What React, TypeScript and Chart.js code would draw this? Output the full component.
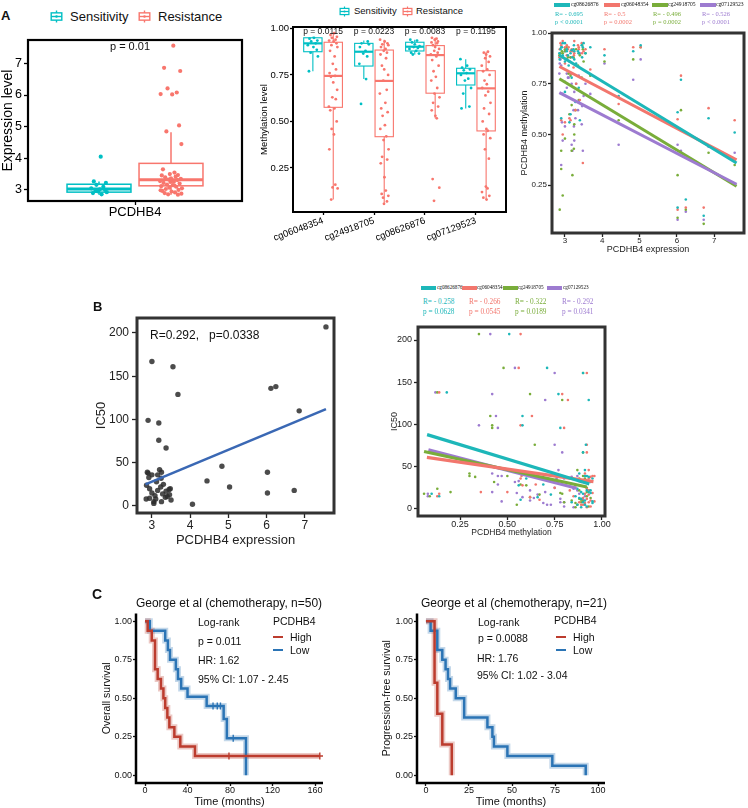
import React, { useEffect, useRef } from 'react';
import { Chart, registerables } from 'chart.js';
Chart.register(...registerables);

const SANS = "'Liberation Sans', Arial, Helvetica, sans-serif";
const SERIF = "'Liberation Serif', 'Times New Roman', serif";

// ---------------- shared jitter offsets (position only, -1..1) ----------------
const JIT = [0.2, -0.6, 0.8, -0.3, 0.5, -0.9, 0.1, 0.7, -0.4, 0.9, -0.7, 0.3, -0.1, 0.6, -0.8, 0.4, -0.5, 0.0, 0.85, -0.2, 0.55, -0.95, 0.25, -0.65, 0.75, -0.35, 0.15, -0.85, 0.45, -0.15, 0.95, -0.45, 0.65, -0.75, 0.05, 0.35, -0.55, 0.9, -0.25, 0.6, -0.05, 0.3, -0.9, 0.7, -0.6, 0.1, 0.5, -0.3, 0.8, -0.7];

// ---------------- Panel A1: expression by response ----------------
const A1_SENS = [4.05, 3.27, 3.22, 3.16, 3.1, 3.05, 3.02, 3.0, 2.97, 2.93, 2.9, 2.86, 2.95];
const A1_RES = [7.56, 6.86, 6.76, 6.21, 6.08, 6.03, 6.02, 5.04, 4.85, 4.45, 3.65, 3.55, 3.5, 3.47, 3.46, 3.42, 3.4, 3.37, 3.35, 3.33, 3.31, 3.28, 3.26, 3.22, 3.2, 3.17, 3.15, 3.12, 3.1, 3.07, 3.05, 3.03, 3.0, 2.97, 2.95, 2.92, 2.9, 2.88, 2.86, 2.85, 3.25, 3.14, 2.99];
const A1_SENS_BOX = [2.85, 2.93, 3.03, 3.18, 3.27]; // lo, q1, med, q3, hi
const A1_RES_BOX = [2.85, 3.13, 3.32, 3.84, 4.82];
const A1_YTICKS = [3, 4, 5, 6, 7];

// ---------------- Panel A2: methylation by probe ----------------
const A2_CATS = ['cg06048354', 'cg24918705', 'cg08626876', 'cg07129523'];
const A2_PVALS = ['p = 0.0115', 'p = 0.0223', 'p = 0.0083', 'p = 0.1195'];
const A2_SENS_LO = [0.77, 0.728, 0.86, 0.57];
const A2_SENS_Q1 = [0.875, 0.798, 0.879, 0.696];
const A2_SENS_MED = [0.92, 0.875, 0.902, 0.759];
const A2_SENS_Q3 = [0.95, 0.92, 0.926, 0.786];
const A2_SENS_HI = [0.955, 0.935, 0.94, 0.835];
const A2_RES_LO = [0.08, 0.05, 0.517, 0.08];
const A2_RES_Q1 = [0.576, 0.418, 0.652, 0.449];
const A2_RES_MED = [0.745, 0.718, 0.857, 0.678];
const A2_RES_Q3 = [0.926, 0.884, 0.908, 0.773];
const A2_RES_HI = [0.975, 0.94, 0.95, 0.875];
const A2_SENS_PTS = [
  [0.95, 0.945, 0.935, 0.93, 0.92, 0.91, 0.9, 0.885, 0.87, 0.85, 0.77],
  [0.93, 0.92, 0.915, 0.9, 0.88, 0.865, 0.85, 0.81, 0.728, 0.594],
  [0.94, 0.935, 0.925, 0.915, 0.905, 0.9, 0.895, 0.89, 0.88, 0.87, 0.865, 0.86],
  [0.835, 0.8, 0.79, 0.78, 0.775, 0.76, 0.75, 0.73, 0.72, 0.68, 0.65, 0.58, 0.57],
];
const A2_RES_PTS = [
  [0.975, 0.965, 0.955, 0.95, 0.94, 0.935, 0.93, 0.92, 0.91, 0.9, 0.88, 0.85, 0.81, 0.78, 0.76, 0.745, 0.74, 0.71, 0.67, 0.63, 0.62, 0.58, 0.57, 0.56, 0.5, 0.46, 0.43, 0.35, 0.16, 0.145, 0.14, 0.08],
  [0.94, 0.93, 0.92, 0.915, 0.91, 0.9, 0.89, 0.88, 0.87, 0.86, 0.84, 0.8, 0.78, 0.75, 0.72, 0.67, 0.65, 0.6, 0.57, 0.55, 0.53, 0.48, 0.46, 0.42, 0.4, 0.35, 0.31, 0.295, 0.275, 0.2, 0.128, 0.11, 0.1, 0.09, 0.07, 0.057],
  [0.95, 0.945, 0.94, 0.93, 0.925, 0.92, 0.91, 0.9, 0.89, 0.88, 0.87, 0.86, 0.85, 0.83, 0.8, 0.77, 0.74, 0.72, 0.68, 0.65, 0.63, 0.6, 0.58, 0.56, 0.53, 0.517, 0.19, 0.144, 0.073],
  [0.875, 0.87, 0.86, 0.85, 0.84, 0.82, 0.8, 0.78, 0.77, 0.75, 0.72, 0.7, 0.68, 0.66, 0.64, 0.6, 0.57, 0.54, 0.5, 0.46, 0.45, 0.43, 0.41, 0.35, 0.3, 0.15, 0.14, 0.12, 0.1, 0.09, 0.08],
];
const A2_YTICKS = [0.25, 0.5, 0.75, 1.0];

// ---------------- Shared samples (A3, B1, B2) ----------------
const S_EXPR = [7.55, 6.85, 6.72, 6.24, 6.11, 6.02, 6.02, 5.03, 4.83, 4.44, 4.06, 3.68, 3.55, 3.0, 2.9, 3.18, 3.18, 3.37, 2.88, 2.9, 3.0, 3.2, 3.25, 3.15, 3.24, 2.86, 2.94, 3.23, 3.48, 3.46, 3.37, 3.15, 3.0, 2.85, 2.94, 3.05, 3.1, 3.25, 3.05, 3.28, 3.4, 3.45, 3.12, 3.3, 2.92, 3.35, 3.08, 3.5];
const S_IC50 = [207, 110, 18, 138, 136, 39, 15, 22, 46, 29, 2, 129, 161, 167, 99, 96, 76, 67, 39, 38, 36, 42, 39, 36, 32, 24, 20, 22, 20, 13, 17, 18, 15, 8, 9, 5, 8, 5, 3, 14, 11, 19, 28, 25, 33, 10, 12, 7];
const M_CG08626876 = [0.51, 0.58, 0.1, 0.18, 0.77, 0.61, 0.14, 0.94, 0.91, 0.69, 0.89, 0.93, 0.9, 0.71, 0.58, 0.78, 0.915, 0.9, 0.92, 0.93, 0.95, 0.88, 0.91, 0.6, 0.94, 0.87, 0.89, 0.92, 0.93, 0.88, 0.73, 0.9, 0.86, 0.9, 0.95, 0.91, 0.84, 0.87, 0.92, 0.66, 0.57, 0.94, 0.56, 0.85, 0.93, 0.91, 0.89, 0.95];
const M_CG06048354 = [0.57, 0.63, 0.14, 0.14, 0.79, 0.575, 0.13, 0.93, 0.93, 0.65, 0.92, 0.82, 0.92, 0.56, 0.57, 0.8, 0.92, 0.92, 0.95, 0.94, 0.93, 0.91, 0.96, 0.57, 0.89, 0.92, 0.5, 0.83, 0.36, 0.9, 0.93, 0.91, 0.85, 0.88, 0.96, 0.89, 0.93, 0.9, 0.94, 0.62, 0.67, 0.95, 0.58, 0.75, 0.88, 0.94, 0.92, 0.91];
const M_CG24918705 = [0.35, 0.41, 0.06, 0.13, 0.62, 0.3, 0.09, 0.93, 0.87, 0.57, 0.86, 0.79, 0.9, 0.48, 0.42, 0.42, 0.645, 0.9, 0.9, 0.33, 0.91, 0.3, 0.5, 0.88, 0.43, 0.13, 0.2, 0.88, 0.92, 0.94, 0.67, 0.79, 0.92, 0.89, 0.9, 0.87, 0.8, 0.55, 0.93, 0.62, 0.89, 0.78, 0.6, 0.92, 0.91, 0.84, 0.88, 0.86];
const M_CG07129523 = [0.41, 0.44, 0.08, 0.12, 0.42, 0.45, 0.08, 0.87, 0.77, 0.45, 0.85, 0.7, 0.75, 0.54, 0.35, 0.45, 0.75, 0.79, 0.87, 0.84, 0.76, 0.42, 0.47, 0.8, 0.54, 0.85, 0.7, 0.62, 0.42, 0.64, 0.66, 0.88, 0.91, 0.8, 0.47, 0.73, 0.78, 0.71, 0.8, 0.58, 0.9, 0.55, 0.86, 0.75, 0.56, 0.62, 0.78, 0.69];
const PROBES = ['cg08626876', 'cg06048354', 'cg24918705', 'cg07129523'];
const PROBE_METH = [M_CG08626876, M_CG06048354, M_CG24918705, M_CG07129523];
const PROBE_COLORS = ['#1DB7B9', '#F2766D', '#79AD3A', '#9D7BD0'];
// regression line end points [x0, y0, x1, y1]
const A3_FITS = [[2.85, 0.89, 7.6, 0.36], [2.85, 0.835, 7.6, 0.375], [2.85, 0.775, 7.6, 0.245], [2.85, 0.706, 7.6, 0.255]];
const A3_R = ['R= - 0.695', 'R= - 0.5', 'R= - 0.496', 'R= - 0.526'];
const A3_P = ['p < 0.0001', 'p = 0.0002', 'p = 0.0002', 'p < 0.0001'];
const A3_XTICKS = [3, 4, 5, 6, 7];
const A3_YTICKS = [0.25, 0.5, 0.75, 1.0];
const B1_FIT = [2.83, 25, 7.55, 112];
const B1_XTICKS = [3, 4, 5, 6, 7];
const B1_YTICKS = [0, 50, 100, 150, 200];
const B2_FITS = [[0.076, 88, 0.933, 29.6], [0.075, 61, 0.955, 32.3], [0.06, 68, 0.92, 26], [0.083, 70, 0.866, 24.5]];
const B2_R = ['R= - 0.258', 'R= - 0.266', 'R= - 0.322', 'R= - 0.292'];
const B2_P = ['p = 0.0628', 'p = 0.0545', 'p = 0.0189', 'p = 0.0341'];
const B2_XTICKS = [0.25, 0.5, 0.75, 1.0];
const B2_YTICKS = [0, 50, 100, 150, 200];

// ---------------- Panel C: Kaplan-Meier ----------------
const C1_HIGH_T = [0, 2.5, 6.3, 9.4, 11.9, 15, 17.3, 19, 21, 22.9, 27.6, 33.2, 47, 164.5];
const C1_HIGH_S = [1, 0.9375, 0.875, 0.6875, 0.625, 0.5625, 0.5, 0.4375, 0.375, 0.3125, 0.25, 0.1875, 0.125, 0.125];
const C1_HIGH_CT = [79, 164.5];
const C1_HIGH_CS = [0.125, 0.125];
const C1_LOW_T = [0, 4.5, 19, 21.5, 23.5, 29, 31, 34, 40, 58, 74, 77, 95];
const C1_LOW_S = [1, 0.9375, 0.875, 0.8125, 0.75, 0.6875, 0.625, 0.5625, 0.51, 0.45, 0.365, 0.24, 0];
const C1_LOW_CT = [64, 68, 71, 83];
const C1_LOW_CS = [0.45, 0.45, 0.45, 0.24];
const C1_XTICKS = [0, 40, 80, 120, 160];
const C2_HIGH_T = [0, 5, 6.6, 9.5, 15];
const C2_HIGH_S = [1, 0.6, 0.4, 0.2, 0];
const C2_LOW_T = [0, 2.7, 6.6, 9.5, 11.4, 12.8, 14, 17.3, 22.2, 35.7, 38.6, 39.5, 47.3, 73.4, 92.8];
const C2_LOW_S = [1, 0.9375, 0.8125, 0.75, 0.6875, 0.625, 0.5625, 0.5, 0.375, 0.3125, 0.25, 0.1875, 0.125, 0.0625, 0];
const C2_XTICKS = [0, 25, 50, 75, 100];
const KM_YTICKS = [0, 0.25, 0.5, 0.75, 1.0];

const TEAL = '#00BFC4';
const SALMON = '#F8766D';
const KM_RED = '#BC3C2E';
const KM_BLUE = '#2B74B5';

// ---------------- helpers ----------------
type AxisSpec = {
  min: number; max: number; ticks: number[]; label?: (v: number) => string;
  size: number; font: number; tl: number; pad: number; color?: string; tw?: number;
  title?: string; tfont?: number; tpad?: number; rot?: number;
};

function axis(a: AxisSpec): any {
  const color = a.color || '#111';
  return {
    type: 'linear', min: a.min, max: a.max,
    afterBuildTicks: (s: any) => { s.ticks = a.ticks.map((v) => ({ value: v })); },
    afterFit: (s: any) => { if (s.isHorizontal()) s.height = a.size; else s.width = a.size; },
    grid: { display: true, drawOnChartArea: false, drawTicks: true, tickLength: a.tl, tickColor: color, tickWidth: a.tw || 1.3 },
    border: { display: false },
    ticks: {
      font: { family: SANS, size: a.font, lineHeight: 1 }, color, padding: a.pad, autoSkip: false,
      maxRotation: a.rot || 0, minRotation: a.rot || 0,
      callback: (v: any) => (a.label ? a.label(Number(v)) : String(v)),
    },
    title: a.title
      ? { display: true, text: a.title, color, font: { family: SANS, size: a.tfont, lineHeight: 1 }, padding: { top: a.tpad, bottom: a.tpad } }
      : { display: false },
  };
}

function framePlugin(color: string, width: number, sides: 'all' | 'lb') {
  return {
    id: 'frame',
    afterDatasetsDraw(chart: any) {
      const { ctx, chartArea: a } = chart;
      ctx.save();
      ctx.strokeStyle = color;
      ctx.lineWidth = width;
      if (sides === 'all') {
        ctx.strokeRect(a.left, a.top, a.right - a.left, a.bottom - a.top);
      } else {
        ctx.beginPath();
        ctx.moveTo(a.left, a.top);
        ctx.lineTo(a.left, a.bottom);
        ctx.lineTo(a.right, a.bottom);
        ctx.stroke();
      }
      ctx.restore();
    },
  };
}

type BoxItem = { x: number; half: number; s: number[]; color: string; lw: number };
function boxPlugin(items: BoxItem[]) {
  return {
    id: 'boxes',
    beforeDatasetsDraw(chart: any) {
      const { ctx } = chart;
      const xs = chart.scales.x, ys = chart.scales.y;
      for (const b of items) {
        const [lo, q1, med, q3, hi] = b.s;
        const xl = xs.getPixelForValue(b.x - b.half);
        const xr = xs.getPixelForValue(b.x + b.half);
        const xc = xs.getPixelForValue(b.x);
        const py = (v: number) => ys.getPixelForValue(v);
        ctx.save();
        ctx.strokeStyle = b.color;
        ctx.lineWidth = b.lw;
        ctx.beginPath();
        ctx.moveTo(xc, py(q3)); ctx.lineTo(xc, py(hi));
        ctx.moveTo(xc, py(q1)); ctx.lineTo(xc, py(lo));
        ctx.stroke();
        ctx.fillStyle = '#fff';
        ctx.fillRect(xl, py(q3), xr - xl, py(q1) - py(q3));
        ctx.strokeRect(xl, py(q3), xr - xl, py(q1) - py(q3));
        ctx.lineWidth = b.lw * 2;
        ctx.beginPath();
        ctx.moveTo(xl, py(med)); ctx.lineTo(xr, py(med));
        ctx.stroke();
        ctx.restore();
      }
    },
  };
}

function pvalPlugin(labels: string[]) {
  return {
    id: 'pvals',
    afterDatasetsDraw(chart: any) {
      const { ctx, chartArea } = chart;
      const xs = chart.scales.x;
      ctx.save();
      ctx.font = `8.5px ${SANS}`;
      ctx.fillStyle = '#111';
      ctx.textAlign = 'center';
      ctx.textBaseline = 'middle';
      labels.forEach((t, i) => ctx.fillText(t, xs.getPixelForValue(i + 1), chartArea.top + 5));
      ctx.restore();
    },
  };
}

function baseOptions(padding: any, scales: any) {
  return {
    responsive: false,
    animation: false,
    events: [],
    layout: { padding },
    plugins: { legend: { display: false }, tooltip: { enabled: false } },
    scales,
  };
}

const pts = (xs: number[], ys: number[]) => xs.map((x, i) => ({ x, y: ys[i] }));
const scatterSet = (data: any[], color: string, r: number, order = 2) => ({
  data, pointRadius: r, pointBackgroundColor: color, pointBorderWidth: 0, showLine: false, order,
});
const lineSet = (fit: number[], color: string, w: number, order = 0) => ({
  data: [{ x: fit[0], y: fit[1] }, { x: fit[2], y: fit[3] }],
  showLine: true, borderColor: color, borderWidth: w, pointRadius: 0, order, borderCapStyle: 'butt',
});
const kmSet = (T: number[], S: number[], color: string, w: number, order: number) => ({
  data: pts(T, S), showLine: true, stepped: 'before', borderColor: color, borderWidth: w, pointRadius: 0, order, fill: false,
});
const censorSet = (T: number[], S: number[], color: string) => ({
  data: pts(T, S), showLine: false, pointStyle: 'cross', pointRadius: 3.5, pointBorderColor: color, pointBorderWidth: 1.4, order: 0,
});

// ---------------- chart builders ----------------
function buildA1(c: HTMLCanvasElement) {
  const sens = A1_SENS.map((v, i) => ({ x: 0.75 + JIT[i] * 0.06, y: v }));
  const res = A1_RES.map((v, i) => ({ x: 1.25 + JIT[i] * 0.08, y: v }));
  return new Chart(c, {
    type: 'scatter',
    data: { datasets: [scatterSet(sens, TEAL, 2.1), scatterSet(res, SALMON, 2.1)] as any },
    options: baseOptions({ left: 0, top: 15, right: 8, bottom: 0 }, {
      x: axis({ min: 0.257, max: 1.743, ticks: [1], label: () => 'PCDHB4', size: 24, font: 13, tl: 4, pad: 1, color: '#000' }),
      y: axis({ min: 2.65, max: 7.74, ticks: A1_YTICKS, size: 28, font: 12.5, tl: 4, pad: 2, color: '#000', title: 'Expression level', tfont: 14, tpad: 1 }),
    }) as any,
    plugins: [
      boxPlugin([
        { x: 0.75, half: 0.222, s: A1_SENS_BOX, color: TEAL, lw: 1.5 },
        { x: 1.25, half: 0.222, s: A1_RES_BOX, color: SALMON, lw: 1.5 },
      ]),
      framePlugin('#000', 2.2, 'all'),
    ] as any,
  });
}

function buildA2(c: HTMLCanvasElement) {
  const datasets: any[] = [];
  const items: BoxItem[] = [];
  A2_CATS.forEach((_, g) => {
    const cx = g + 1;
    items.push({ x: cx - 0.2, half: 0.18, s: [A2_SENS_LO[g], A2_SENS_Q1[g], A2_SENS_MED[g], A2_SENS_Q3[g], A2_SENS_HI[g]], color: TEAL, lw: 1.1 });
    items.push({ x: cx + 0.2, half: 0.18, s: [A2_RES_LO[g], A2_RES_Q1[g], A2_RES_MED[g], A2_RES_Q3[g], A2_RES_HI[g]], color: SALMON, lw: 1.1 });
    datasets.push(scatterSet(A2_SENS_PTS[g].map((v, i) => ({ x: cx - 0.2 + JIT[(i + g * 7) % JIT.length] * 0.11, y: v })), TEAL, 1.4));
    datasets.push(scatterSet(A2_RES_PTS[g].map((v, i) => ({ x: cx + 0.2 + JIT[(i + g * 5) % JIT.length] * 0.09, y: v })), SALMON, 1.4));
  });
  return new Chart(c, {
    type: 'scatter',
    data: { datasets },
    options: baseOptions({ left: 0, top: 7, right: 4, bottom: 0 }, {
      x: axis({ min: 0.41, max: 4.59, ticks: [1, 2, 3, 4], label: (v) => A2_CATS[Math.round(v) - 1] || '', size: 48, font: 9.5, tl: 3, pad: 1, rot: 20, color: '#000' }),
      y: axis({ min: 0.013, max: 1.008, ticks: A2_YTICKS, label: (v) => v.toFixed(2), size: 43, font: 9.5, tl: 3, pad: 1, color: '#000', title: 'Methylation level', tfont: 9.5, tpad: 10 }),
    }) as any,
    plugins: [boxPlugin(items), pvalPlugin(A2_PVALS), framePlugin('#000', 2, 'all')] as any,
  });
}

function buildA3(c: HTMLCanvasElement) {
  const datasets: any[] = [];
  PROBES.forEach((_, k) => datasets.push(scatterSet(pts(S_EXPR, PROBE_METH[k]), PROBE_COLORS[k], 1.3, 2)));
  [3, 2, 1, 0].forEach((k) => datasets.push(lineSet(A3_FITS[k], PROBE_COLORS[k], 3, k === 0 ? 0 : 1)));
  return new Chart(c, {
    type: 'scatter',
    data: { datasets },
    options: baseOptions({ left: 0, top: 4, right: 3, bottom: 0 }, {
      x: axis({ min: 2.653, max: 7.8, ticks: A3_XTICKS, size: 29, font: 8, tl: 4, pad: 0, color: '#222', title: 'PCDHB4 expression', tfont: 9, tpad: 7.5 }),
      y: axis({ min: 0.015, max: 1.0, ticks: A3_YTICKS, label: (v) => v.toFixed(2), size: 52, font: 8, tl: 4, pad: 1, color: '#222', title: 'PCDHB4 methylation', tfont: 9, tpad: 20.5 }),
    }) as any,
    plugins: [framePlugin('#333', 3, 'all')] as any,
  });
}

function buildB1(c: HTMLCanvasElement) {
  return new Chart(c, {
    type: 'scatter',
    data: { datasets: [scatterSet(pts(S_EXPR, S_IC50), 'rgba(45,45,45,0.85)', 2.7, 2), lineSet(B1_FIT, '#3A68B4', 2.6, 0)] as any },
    options: baseOptions({ left: 0, top: 18, right: 6, bottom: 0 }, {
      x: axis({ min: 2.61, max: 7.76, ticks: B1_XTICKS, size: 37, font: 12, tl: 5, pad: 2, color: '#222', title: 'PCDHB4 expression', tfont: 13, tpad: 3.5 }),
      y: axis({ min: -8.1, max: 217.3, ticks: B1_YTICKS, size: 67, font: 12, tl: 5, pad: 3, color: '#222', title: 'IC50', tfont: 13, tpad: 24.5 }),
    }) as any,
    plugins: [framePlugin('#333', 3, 'all')] as any,
  });
}

function buildB2(c: HTMLCanvasElement) {
  const datasets: any[] = [];
  PROBES.forEach((_, k) => datasets.push(scatterSet(pts(PROBE_METH[k], S_IC50), PROBE_COLORS[k], 1.3, 2)));
  [1, 2, 3, 0].forEach((k) => datasets.push(lineSet(B2_FITS[k], PROBE_COLORS[k], 3.2, k === 0 ? 0 : 1)));
  return new Chart(c, {
    type: 'scatter',
    data: { datasets },
    options: baseOptions({ left: 0, top: 7, right: 15, bottom: 0 }, {
      x: axis({ min: 0.028, max: 1.016, ticks: B2_XTICKS, label: (v) => v.toFixed(2), size: 29, font: 9, tl: 4, pad: 0, color: '#222', title: 'PCDHB4 methylation', tfont: 8.5, tpad: 8.5 }),
      y: axis({ min: -8.3, max: 215.4, ticks: B2_YTICKS, size: 58, font: 9, tl: 4, pad: 2, color: '#222', title: 'IC50', tfont: 9, tpad: 30.5 }),
    }) as any,
    plugins: [framePlugin('#333', 3, 'all')] as any,
  });
}

function buildKM(c: HTMLCanvasElement, which: 1 | 2) {
  const hT = which === 1 ? C1_HIGH_T : C2_HIGH_T;
  const hS = which === 1 ? C1_HIGH_S : C2_HIGH_S;
  const lT = which === 1 ? C1_LOW_T : C2_LOW_T;
  const lS = which === 1 ? C1_LOW_S : C2_LOW_S;
  const datasets: any[] = [
    kmSet(lT, lS, 'rgba(43,116,181,0.28)', 6, 5),
    kmSet(hT, hS, 'rgba(188,60,46,0.28)', 6, 4),
    kmSet(lT, lS, KM_BLUE, 2.5, 2),
    kmSet(hT, hS, KM_RED, 2.5, 1),
  ];
  if (which === 1) {
    datasets.push(censorSet(C1_HIGH_CT, C1_HIGH_CS, KM_RED));
    datasets.push(censorSet(C1_LOW_CT, C1_LOW_CS, KM_BLUE));
  }
  const xTicks = which === 1 ? C1_XTICKS : C2_XTICKS;
  return new Chart(c, {
    type: 'scatter',
    data: { datasets },
    options: baseOptions({ left: 0, top: 5, right: which === 1 ? 7 : 10, bottom: 0 }, {
      x: axis(which === 1
        ? { min: -8.5, max: 167.5, ticks: xTicks, size: 25, font: 9, tl: 3, pad: 0.5, color: '#111', title: 'Time (months)', tfont: 11, tpad: 0.5 }
        : { min: -5.2, max: 104, ticks: xTicks, size: 25, font: 9, tl: 3, pad: 0.5, color: '#111', title: 'Time (months)', tfont: 11, tpad: 0.5 }),
      y: axis({ min: -0.05, max: 1.05, ticks: KM_YTICKS, label: (v) => v.toFixed(2), size: which === 1 ? 56 : 57, font: 9, tl: 3, pad: 1, color: '#111',
        title: which === 1 ? 'Overall survival' : 'Progression-free survival', tfont: 10.5, tpad: which === 1 ? 21.75 : 22 }),
    }) as any,
    plugins: [framePlugin('#000', 2.5, 'lb')] as any,
  });
}

// ---------------- React components ----------------
type Rect = { x: number; y: number; w: number; h: number };
function ChartCanvas({ rect, build }: { rect: Rect; build: (c: HTMLCanvasElement) => Chart }) {
  const ref = useRef<HTMLCanvasElement>(null);
  useEffect(() => {
    const ch = build(ref.current as HTMLCanvasElement);
    return () => ch.destroy();
  }, []);
  return (
    <canvas ref={ref} width={rect.w} height={rect.h}
      style={{ position: 'absolute', left: rect.x, top: rect.y, width: rect.w, height: rect.h }} />
  );
}

function T(props: { x: number; y: number; s: number; a?: 'l' | 'c' | 'r'; c?: string; f?: string; b?: boolean; children: any }) {
  const { x, y, s, a = 'l', c = '#111', f = SANS, b = false } = props;
  const tx = a === 'l' ? '0' : a === 'c' ? '-50%' : '-100%';
  return (
    <div style={{ position: 'absolute', left: x, top: y, transform: `translate(${tx}, -50%)`, fontSize: s, fontFamily: f, color: c,
      fontWeight: b ? 'bold' : 'normal', lineHeight: 1, whiteSpace: 'pre' }}>{props.children}</div>
  );
}

function BoxIcon({ x, y, w, h, color, lw }: { x: number; y: number; w: number; h: number; color: string; lw: number }) {
  return (
    <svg style={{ position: 'absolute', left: x, top: y }} width={w} height={h}>
      <line x1={w / 2} y1={0.5} x2={w / 2} y2={h - 0.5} stroke={color} strokeWidth={lw} />
      <rect x={lw / 2 + 0.5} y={h * 0.22} width={w - lw - 1} height={h * 0.56} fill="#fff" stroke={color} strokeWidth={lw} />
      <line x1={lw / 2 + 0.5} y1={h / 2} x2={w - lw / 2 - 0.5} y2={h / 2} stroke={color} strokeWidth={lw} />
      <circle cx={w / 2} cy={h / 2} r={lw * 0.9} fill={color} />
    </svg>
  );
}

function Swatch({ x, y, w, h, color }: { x: number; y: number; w: number; h: number; color: string }) {
  return <div style={{ position: 'absolute', left: x, top: y - h / 2, width: w, height: h, background: color }} />;
}

const A3_SW_X = [554, 604, 652, 700];
const A3_NAME_X = [571, 621, 668, 716];
const A3_TXT_X = [555, 604, 653, 702];
const B2_SW_X = [421, 462, 503, 547];
const B2_NAME_X = [437, 477, 518, 563];
const B2_TXT_X = [423, 469, 515, 562];

export default function App() {
  return (
    <div style={{ position: 'absolute', left: 0, top: 0, width: 748, height: 808, background: '#fff', overflow: 'hidden' }}>
      <ChartCanvas rect={{ x: 0, y: 25, w: 250, h: 200 }} build={buildA1} />
      <ChartCanvas rect={{ x: 250, y: 20, w: 260, h: 240 }} build={buildA2} />
      <ChartCanvas rect={{ x: 500, y: 28, w: 248, h: 234 }} build={buildA3} />
      <ChartCanvas rect={{ x: 70, y: 300, w: 270, h: 250 }} build={buildB1} />
      <ChartCanvas rect={{ x: 360, y: 320, w: 260, h: 225 }} build={buildB2} />
      <ChartCanvas rect={{ x: 80, y: 608, w: 250, h: 200 }} build={(c) => buildKM(c, 1)} />
      <ChartCanvas rect={{ x: 360, y: 608, w: 255, h: 200 }} build={(c) => buildKM(c, 2)} />

      {/* Panel letters */}
      <T x={1} y={15} s={13} b>A</T>
      <T x={93} y={306} s={13} b>B</T>
      <T x={92} y={594} s={14} b>C</T>

      {/* A1 legend and p */}
      <BoxIcon x={50} y={10} w={13} h={13} color={TEAL} lw={1.4} />
      <T x={70} y={16} s={13}>Sensitivity</T>
      <BoxIcon x={138} y={10} w={13} h={13} color={SALMON} lw={1.4} />
      <T x={158} y={16} s={13}>Resistance</T>
      <T x={130} y={46} s={11} a="c">p = 0.01</T>

      {/* A2 legend */}
      <BoxIcon x={339} y={6} w={11} h={11} color={TEAL} lw={1.2} />
      <T x={354} y={11} s={9.5}>Sensitivity</T>
      <BoxIcon x={402} y={6} w={11} h={11} color={SALMON} lw={1.2} />
      <T x={416} y={11} s={9.5}>Resistance</T>

      {/* A3 legend */}
      {PROBES.map((p, k) => (
        <React.Fragment key={'a3' + k}>
          <Swatch x={A3_SW_X[k]} y={5} w={16} h={3.5} color={PROBE_COLORS[k]} />
          <T x={A3_NAME_X[k]} y={5} s={5.6} f={SERIF} c="#111">{p}</T>
          <T x={A3_TXT_X[k]} y={13.5} s={6.5} f={SERIF} c={PROBE_COLORS[k]}>{A3_R[k]}</T>
          <T x={A3_TXT_X[k]} y={22} s={6.5} f={SERIF} c={PROBE_COLORS[k]}>{A3_P[k]}</T>
        </React.Fragment>
      ))}

      {/* B1 annotation */}
      <T x={150} y={335} s={12}>{'R=0.292,   p=0.0338'}</T>

      {/* B2 legend */}
      {PROBES.map((p, k) => (
        <React.Fragment key={'b2' + k}>
          <Swatch x={B2_SW_X[k]} y={288} w={15} h={3.5} color={PROBE_COLORS[k]} />
          <T x={B2_NAME_X[k]} y={288} s={5.2} f={SERIF} c="#111">{p}</T>
          <T x={B2_TXT_X[k]} y={302} s={7.3} f={SERIF} c={PROBE_COLORS[k]}>{B2_R[k]}</T>
          <T x={B2_TXT_X[k]} y={312} s={7.3} f={SERIF} c={PROBE_COLORS[k]}>{B2_P[k]}</T>
        </React.Fragment>
      ))}

      {/* C1 */}
      <T x={229} y={603} s={12} a="c">George et al (chemotherapy, n=50)</T>
      <T x={198} y={622} s={10.5}>Log-rank</T>
      <T x={198} y={641} s={10.5}>p = 0.011</T>
      <T x={198} y={660} s={10.5}>HR: 1.62</T>
      <T x={198} y={679} s={10.5}>95% CI: 1.07 - 2.45</T>
      <T x={273} y={621} s={10.5}>PCDHB4</T>
      <Swatch x={273} y={637} w={10} h={2.6} color={KM_RED} />
      <T x={290} y={637} s={10.5}>High</T>
      <Swatch x={273} y={650} w={10} h={2.6} color={KM_BLUE} />
      <T x={290} y={650} s={10.5}>Low</T>

      {/* C2 */}
      <T x={514} y={603} s={12} a="c">George et al (chemotherapy, n=21)</T>
      <T x={478} y={622} s={10.5}>Log-rank</T>
      <T x={478} y={638} s={10.5}>p = 0.0088</T>
      <T x={477} y={658} s={10.5}>HR: 1.76</T>
      <T x={477} y={675} s={10.5}>95% CI: 1.02 - 3.04</T>
      <T x={554} y={620} s={10.5}>PCDHB4</T>
      <Swatch x={556} y={637} w={10} h={2.6} color={KM_RED} />
      <T x={573} y={637} s={10.5}>High</T>
      <Swatch x={556} y={650} w={10} h={2.6} color={KM_BLUE} />
      <T x={573} y={650} s={10.5}>Low</T>
    </div>
  );
}
